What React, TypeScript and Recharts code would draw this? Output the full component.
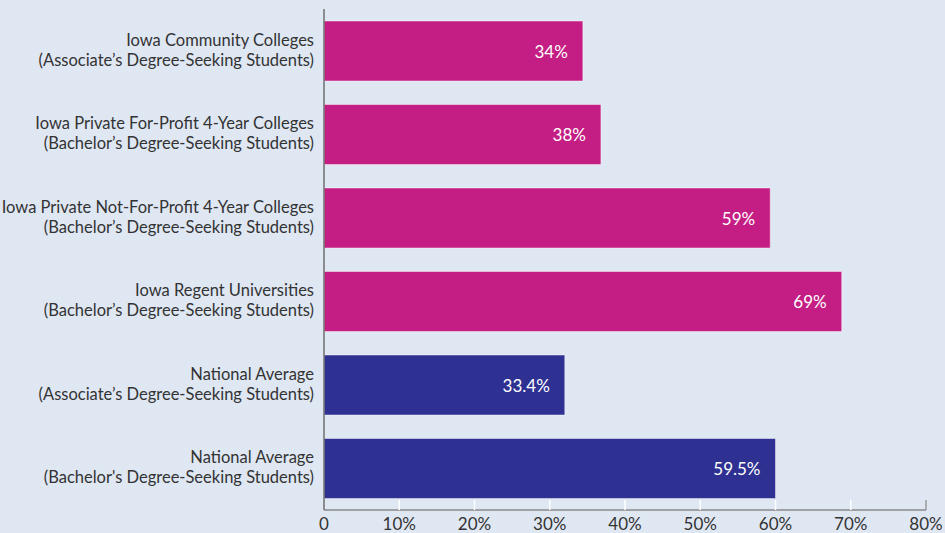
import React from "react";
import { BarChart, Bar, XAxis, YAxis, Cell, LabelList } from "recharts";

const categories = [
  "Iowa Community Colleges\n(Associate’s Degree-Seeking Students)",
  "Iowa Private For-Profit 4-Year Colleges\n(Bachelor’s Degree-Seeking Students)",
  "Iowa Private Not-For-Profit 4-Year Colleges\n(Bachelor’s Degree-Seeking Students)",
  "Iowa Regent Universities\n(Bachelor’s Degree-Seeking Students)",
  "National Average\n(Associate’s Degree-Seeking Students)",
  "National Average\n(Bachelor's Degree-Seeking Students)",
];
const values = [34.4, 36.8, 59.3, 68.8, 32.0, 60.0];
const valueLabels = ["34%", "38%", "59%", "69%", "33.4%", "59.5%"];
const groups = ["iowa", "iowa", "iowa", "iowa", "national", "national"];
const xTicks = [0, 10, 20, 30, 40, 50, 60, 70, 80];

const COLORS: Record<string, string> = { iowa: "#C41E84", national: "#2E3192" };
const FONT = "Lato, 'Noto Sans', sans-serif";

const data = categories.map((c, i) => ({
  name: c,
  value: values[i],
  label: valueLabels[i],
  group: groups[i],
}));

const YTick = (props: any) => {
  const { x, y, payload } = props;
  const lines = String(payload.value).split("\n");
  return (
    <g>
      {lines.map((l: string, i: number) => (
        <text
          key={i}
          x={x - 10}
          y={y - 5 + i * 20}
          textAnchor="end"
          fontSize={16.5}
          fontFamily={FONT}
          fill="#333"
        >
          {l}
        </text>
      ))}
    </g>
  );
};

const XTick = (props: any) => {
  const { x, y, payload, index } = props;
  const v = payload.value;
  const last = v === xTicks[xTicks.length - 1];
  return (
    <g>
      {index !== 0 && (
        <line
          x1={x}
          x2={x}
          y1={y - 10}
          y2={y}
          stroke={last ? "#9a9a9a" : "#ffffff"}
          strokeWidth={1.5}
        />
      )}
      <text x={x} y={y + 20} textAnchor="middle" fontSize={17} fontFamily={FONT} fill="#333">
        {v === 0 ? "0" : `${v}%`}
      </text>
    </g>
  );
};

const ValueLabel = (props: any) => {
  const { x, y, width, height, index } = props;
  return (
    <text
      x={x + width - 15}
      y={y + height / 2}
      textAnchor="end"
      dominantBaseline="central"
      fontSize={17}
      fontFamily={FONT}
      fill="#ffffff"
    >
      {valueLabels[index]}
    </text>
  );
};

export default function App() {
  return (
    <div style={{ position: "absolute", left: 0, top: 0, width: 945, height: 533, background: "#DFE7F3" }}>
      <BarChart
        width={945}
        height={533}
        data={data}
        layout="vertical"
        margin={{ top: 9, right: 19, left: 0, bottom: 3 }}
      >
        <XAxis
          type="number"
          domain={[0, 80]}
          ticks={xTicks}
          tickLine={false}
          tickSize={0}
          tickMargin={0}
          height={20}
          axisLine={{ stroke: "#8a8a8a", strokeWidth: 1.5 }}
          tick={<XTick />}
          interval={0}
        />
        <YAxis
          type="category"
          dataKey="name"
          width={324}
          tickLine={false}
          tickSize={0}
          tickMargin={0}
          axisLine={{ stroke: "#6f6f6f", strokeWidth: 1.5 }}
          tick={<YTick />}
          interval={0}
        />
        <Bar dataKey="value" barSize={60} isAnimationActive={false} stroke="rgba(255,255,255,0.45)" strokeWidth={1}>
          {data.map((d, i) => (
            <Cell key={i} fill={COLORS[d.group]} />
          ))}
          <LabelList dataKey="label" content={<ValueLabel />} />
        </Bar>
      </BarChart>
    </div>
  );
}
